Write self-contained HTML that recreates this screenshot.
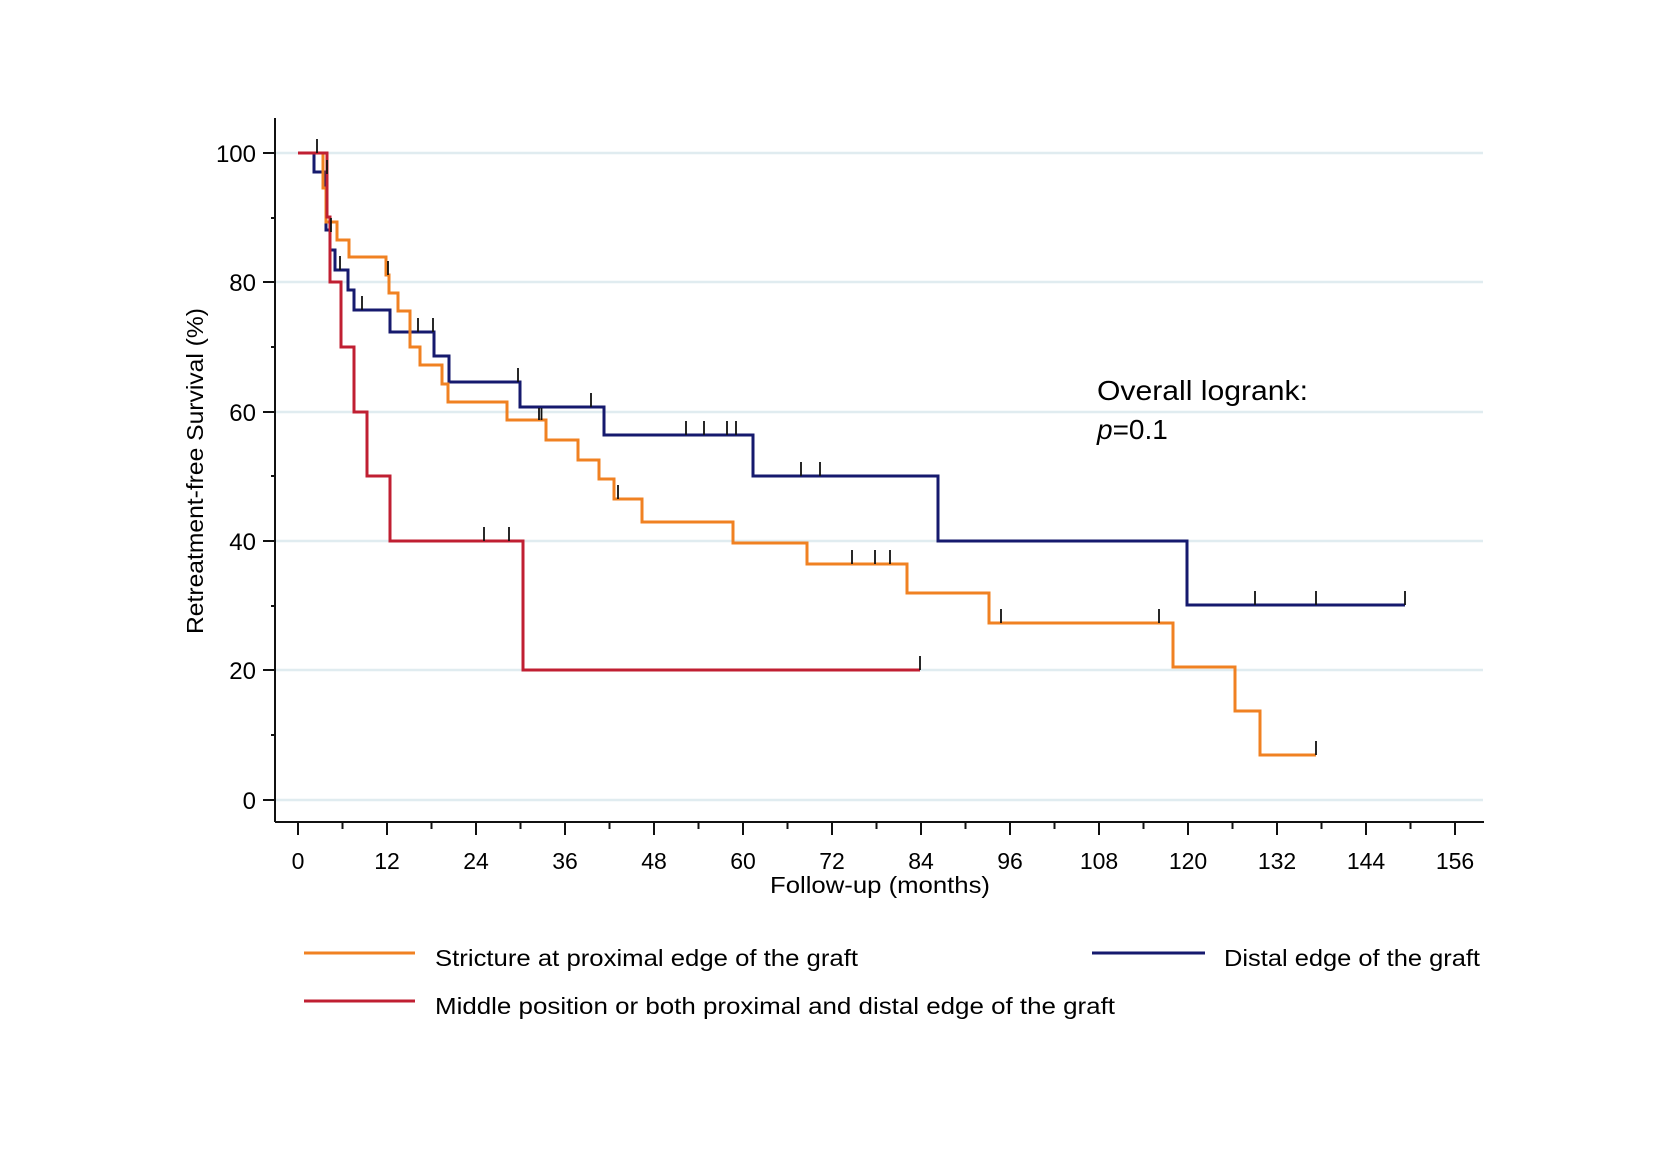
<!DOCTYPE html>
<html><head><meta charset="utf-8"><style>
html,body{margin:0;padding:0;background:#fff;}
svg{display:block;}
text{font-family:"Liberation Sans",sans-serif;fill:#000;}
</style></head><body>
<svg width="1653" height="1164" viewBox="0 0 1653 1164" xmlns="http://www.w3.org/2000/svg">
<rect width="1653" height="1164" fill="#fff"/>
<g stroke="#e0ecf0" stroke-width="2.5">
<line x1="276" y1="153" x2="1483" y2="153"/>
<line x1="276" y1="282" x2="1483" y2="282"/>
<line x1="276" y1="412" x2="1483" y2="412"/>
<line x1="276" y1="541" x2="1483" y2="541"/>
<line x1="276" y1="670" x2="1483" y2="670"/>
<line x1="276" y1="800" x2="1483" y2="800"/>
</g>
<g stroke="#111" stroke-width="2">
<line x1="275" y1="118" x2="275" y2="822"/>
<line x1="275" y1="822" x2="1484" y2="822"/>
<line x1="263" y1="153" x2="275" y2="153"/><line x1="271" y1="218" x2="275" y2="218"/>
<line x1="263" y1="282" x2="275" y2="282"/><line x1="271" y1="347" x2="275" y2="347"/>
<line x1="263" y1="412" x2="275" y2="412"/><line x1="271" y1="476" x2="275" y2="476"/>
<line x1="263" y1="541" x2="275" y2="541"/><line x1="271" y1="606" x2="275" y2="606"/>
<line x1="263" y1="670" x2="275" y2="670"/><line x1="271" y1="735" x2="275" y2="735"/>
<line x1="263" y1="800" x2="275" y2="800"/>
</g>
<g stroke="#111" stroke-width="2">
<line x1="298" y1="822" x2="298" y2="835"/><line x1="342.5" y1="822" x2="342.5" y2="829"/>
<line x1="387" y1="822" x2="387" y2="835"/><line x1="431.5" y1="822" x2="431.5" y2="829"/>
<line x1="476" y1="822" x2="476" y2="835"/><line x1="520.5" y1="822" x2="520.5" y2="829"/>
<line x1="565" y1="822" x2="565" y2="835"/><line x1="609.5" y1="822" x2="609.5" y2="829"/>
<line x1="654" y1="822" x2="654" y2="835"/><line x1="698.5" y1="822" x2="698.5" y2="829"/>
<line x1="743" y1="822" x2="743" y2="835"/><line x1="787.5" y1="822" x2="787.5" y2="829"/>
<line x1="832" y1="822" x2="832" y2="835"/><line x1="876.5" y1="822" x2="876.5" y2="829"/>
<line x1="921" y1="822" x2="921" y2="835"/><line x1="965.5" y1="822" x2="965.5" y2="829"/>
<line x1="1010" y1="822" x2="1010" y2="835"/><line x1="1054.5" y1="822" x2="1054.5" y2="829"/>
<line x1="1099" y1="822" x2="1099" y2="835"/><line x1="1143.5" y1="822" x2="1143.5" y2="829"/>
<line x1="1188" y1="822" x2="1188" y2="835"/><line x1="1232.5" y1="822" x2="1232.5" y2="829"/>
<line x1="1277" y1="822" x2="1277" y2="835"/><line x1="1321.5" y1="822" x2="1321.5" y2="829"/>
<line x1="1366" y1="822" x2="1366" y2="835"/><line x1="1410.5" y1="822" x2="1410.5" y2="829"/>
<line x1="1455" y1="822" x2="1455" y2="835"/>
</g>
<g font-size="24" text-anchor="end">
<text x="256" y="162">100</text><text x="256" y="291">80</text><text x="256" y="421">60</text>
<text x="256" y="550">40</text><text x="256" y="679">20</text><text x="256" y="809">0</text>
</g>
<g font-size="23" text-anchor="middle">
<text x="298" y="869">0</text><text x="387" y="869">12</text><text x="476" y="869">24</text>
<text x="565" y="869">36</text><text x="654" y="869">48</text><text x="743" y="869">60</text>
<text x="832" y="869">72</text><text x="921" y="869">84</text><text x="1010" y="869">96</text>
<text x="1099" y="869">108</text><text x="1188" y="869">120</text><text x="1277" y="869">132</text>
<text x="1366" y="869">144</text><text x="1455" y="869">156</text>
</g>
<text x="770" y="893" font-size="23" textLength="220" lengthAdjust="spacingAndGlyphs">Follow-up (months)</text>
<text transform="translate(203,634) rotate(-90)" font-size="23" textLength="326" lengthAdjust="spacingAndGlyphs">Retreatment-free Survival (%)</text>
<text x="1097" y="400" font-size="28" textLength="211" lengthAdjust="spacingAndGlyphs">Overall logrank:</text>
<text x="1097" y="439" font-size="28"><tspan font-style="italic">p</tspan>=0.1</text>
<g fill="none" stroke-width="3" stroke-linejoin="miter">
<path stroke="#161a6e" d="M298,153 H314 V172 H326 V230 H330 V250 H335 V270 H348 V290 H354 V310 H390 V332 H434 V356 H449 V382 H520 V407 H604 V435 H753 V476 H938 V541 H1187 V605 H1405"/>
<path stroke="#f08122" d="M298,153 H323 V188 H326 V222 H337 V240 H349 V257 H386 V275 H389 V293 H398 V311 H410 V347 H420 V365 H442 V384 H448 V402 H507 V420 H546 V440 H578 V460 H599 V479 H614 V499 H642 V522 H733 V543 H807 V564 H907 V593 H989 V623 H1173 V667 H1235 V711 H1260 V755 H1316"/>
<path stroke="#c01f32" d="M298,153 H327 V217 H330 V282 H341 V347 H354 V412 H367 V476 H390 V541 H523 V670 H920"/>
</g>
<g stroke="#111" stroke-width="1.8">
<line x1="317" y1="139" x2="317" y2="153"/>
<line x1="327" y1="160" x2="327" y2="174"/>
<line x1="331" y1="218" x2="331" y2="232"/>
<line x1="340" y1="256" x2="340" y2="270"/>
<line x1="362" y1="296" x2="362" y2="310"/>
<line x1="418" y1="318" x2="418" y2="332"/>
<line x1="433" y1="318" x2="433" y2="332"/>
<line x1="518" y1="368" x2="518" y2="382"/>
<line x1="591" y1="393" x2="591" y2="407"/>
<line x1="686" y1="421" x2="686" y2="435"/>
<line x1="704" y1="421" x2="704" y2="435"/>
<line x1="727" y1="421" x2="727" y2="435"/>
<line x1="736" y1="421" x2="736" y2="435"/>
<line x1="801" y1="462" x2="801" y2="476"/>
<line x1="820" y1="462" x2="820" y2="476"/>
<line x1="1255" y1="591" x2="1255" y2="605"/>
<line x1="1316" y1="591" x2="1316" y2="605"/>
<line x1="1405" y1="591" x2="1405" y2="605"/>
<line x1="388" y1="261" x2="388" y2="275"/>
<line x1="539" y1="408" x2="539" y2="420"/>
<line x1="541.5" y1="408" x2="541.5" y2="420"/>
<line x1="618" y1="485" x2="618" y2="499"/>
<line x1="852" y1="550" x2="852" y2="564"/>
<line x1="875" y1="550" x2="875" y2="564"/>
<line x1="890" y1="550" x2="890" y2="564"/>
<line x1="1001" y1="609" x2="1001" y2="623"/>
<line x1="1159" y1="609" x2="1159" y2="623"/>
<line x1="1316" y1="741" x2="1316" y2="755"/>
<line x1="484" y1="527" x2="484" y2="541"/>
<line x1="509" y1="527" x2="509" y2="541"/>
<line x1="920" y1="656" x2="920" y2="670"/>
</g>
<g stroke-width="3">
<line x1="304" y1="953" x2="415" y2="953" stroke="#f08122"/>
<line x1="304" y1="1001" x2="415" y2="1001" stroke="#c01f32"/>
<line x1="1092" y1="953" x2="1205" y2="953" stroke="#161a6e"/>
</g>
<g font-size="23">
<text x="435" y="966" textLength="423" lengthAdjust="spacingAndGlyphs">Stricture at proximal edge of the graft</text>
<text x="435" y="1014" textLength="680" lengthAdjust="spacingAndGlyphs">Middle position or both proximal and distal edge of the graft</text>
<text x="1224" y="966" textLength="256" lengthAdjust="spacingAndGlyphs">Distal edge of the graft</text>
</g>
</svg>
</body></html>
